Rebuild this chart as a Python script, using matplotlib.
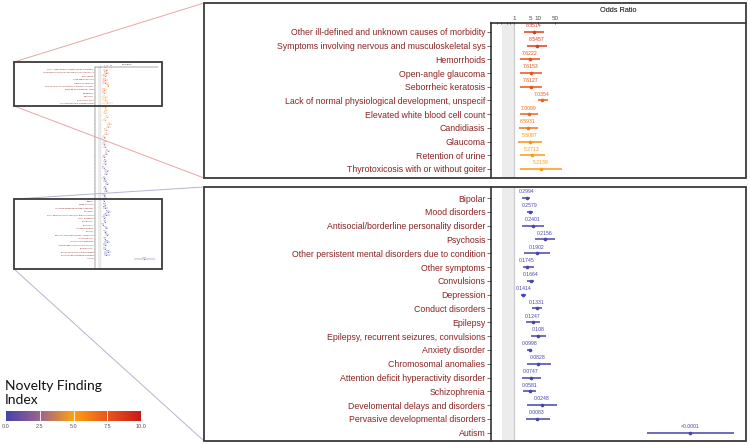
"""
Forest plot (odds ratio) con vista miniatura y dos paneles ampliados.
"""

import matplotlib
matplotlib.use('Agg')
import matplotlib.pyplot as plt
from matplotlib.colors import LinearSegmentedColormap, Normalize
from matplotlib.cm import ScalarMappable
from matplotlib.lines import Line2D
from matplotlib.patches import Rectangle
from matplotlib.ticker import NullLocator

plt.rcParams['font.family'] = ['Liberation Sans', 'DejaVu Sans']

# ---------------- Datos ----------------
# Panel superior (indice alto)
etiquetas_sup = [
    "Other ill-defined and unknown causes of morbidity",
    "Symptoms involving nervous and musculoskeletal sys",
    "Hemorrhoids",
    "Open-angle glaucoma",
    "Seborrheic keratosis",
    "Lack of normal physiological development, unspecif",
    "Elevated white blood cell count",
    "Candidiasis",
    "Glaucoma",
    "Retention of urine",
    "Thyrotoxicosis with or without goiter",
]
indice_sup = [8.5514, 8.5457, 7.6222, 7.6153, 7.6127, 7.0354, 7.0099, 6.5931, 5.5087, 5.2713, 5.2139]
or_sup = [6.8, 9.1, 4.6, 5.1, 5.1, 14.7, 4.2, 3.8, 4.6, 5.6, 13.3]
inf_sup = [2.6, 3.5, 1.8, 1.8, 1.8, 10.0, 1.8, 1.6, 1.5, 1.8, 1.8]
sup_sup = [17.8, 23.7, 12.1, 14.7, 14.7, 26.1, 10.0, 10.0, 14.7, 19.6, 100.0]

# Filas intermedias (solo visibles en la miniatura, valores estimados)
indice_med = [5.09, 4.97, 4.82, 4.61, 4.44, 4.18, 3.95, 3.71, 3.52, 3.30, 3.07, 2.86, 2.71, 2.49,
              2.28, 2.06, 1.88, 1.71, 1.52, 1.33, 1.17, 1.02, 0.88, 0.74, 0.61, 0.52, 0.43, 0.35]
or_med = [4.5, 8.0, 6.0, 12.0, 5.0, 30.0, 20.0, 7.0, 9.0, 4.0, 6.0, 3.5, 5.0, 15.0,
          8.0, 4.0, 6.0, 5.0, 3.0, 10.0, 7.0, 4.0, 6.0, 12.0, 5.0, 8.0, 4.0, 6.0]
inf_med = [2.0, 3.0, 2.5, 5.0, 2.0, 12.0, 8.0, 3.0, 3.5, 1.8, 2.5, 1.8, 2.2, 5.0,
           3.0, 2.0, 2.5, 2.2, 1.6, 4.0, 3.0, 2.0, 2.5, 5.0, 2.2, 3.5, 2.0, 2.5]
sup_med = [10.0, 20.0, 15.0, 30.0, 12.0, 70.0, 50.0, 16.0, 22.0, 9.0, 14.0, 7.0, 11.0, 40.0,
           20.0, 8.0, 14.0, 11.0, 6.0, 25.0, 16.0, 8.0, 14.0, 30.0, 11.0, 18.0, 8.0, 14.0]

# Panel inferior (indice bajo)
etiquetas_inf = [
    "Bipolar",
    "Mood disorders",
    "Antisocial/borderline personality disorder",
    "Psychosis",
    "Other persistent mental disorders due to condition",
    "Other symptoms",
    "Convulsions",
    "Depression",
    "Conduct disorders",
    "Epilepsy",
    "Epilepsy, recurrent seizures, convulsions",
    "Anxiety disorder",
    "Chromosomal anomalies",
    "Attention deficit hyperactivity disorder",
    "Schizophrenia",
    "Develomental delays and disorders",
    "Pervasive developmental disorders",
    "Autism",
]
indice_inf = [0.2994, 0.2579, 0.2401, 0.2156, 0.1902, 0.1745, 0.1664, 0.1414, 0.1331, 0.1247,
              0.108, 0.0998, 0.0828, 0.0747, 0.0581, 0.0248, 0.0083, 0.0]
or_inf = [3.5, 4.6, 6.2, 19.6, 9.1, 3.5, 5.1, 2.4, 9.1, 6.2, 10.0, 4.6, 10.0, 5.1, 4.6, 14.7, 9.1, 2.2e7]
inf_inf = [2.15, 3.5, 2.15, 7.5, 2.6, 2.4, 3.5, 1.96, 5.6, 3.2, 5.1, 3.5, 3.5, 2.15, 2.4, 3.5, 3.2, 3.5e5]
sup_inf = [4.6, 6.2, 17.8, 51.0, 31.6, 6.8, 6.8, 3.2, 14.7, 12.1, 21.5, 5.6, 34.8, 13.3, 8.3, 62.0, 31.6, 1.5e9]

ticks_or = [0.2, 0.3, 0.5, 0.7, 1, 5, 10, 50]
ticks_or_txt = ['', '', '', '', '1', '5', '10', '50']
ticks_barra = [0.0, 2.5, 5.0, 7.5, 10.0]

# Todas las filas juntas
etiquetas = etiquetas_sup + [''] * len(indice_med) + etiquetas_inf
indices = indice_sup + indice_med + indice_inf
ors = or_sup + or_med + or_inf
infs = inf_sup + inf_med + inf_inf
sups = sup_sup + sup_med + sup_inf
n_sup = len(etiquetas_sup)
n_ini_inf = n_sup + len(indice_med)
filas_sup = list(range(n_sup))
filas_inf = list(range(n_ini_inf, len(etiquetas)))
filas_todas = list(range(len(etiquetas)))

# ---------------- Estilo ----------------
W, H = 750, 445
XMIN, XMAX = 0.110, 4.6e9
COLOR_ETIQ = '#8B2323'
cmap = LinearSegmentedColormap.from_list(
    'novedad', [(0.0, '#4444aa'), (0.25, '#9c6290'), (0.5, '#ffa010'), (0.75, '#e8561a'), (1.0, '#c81a1a')])
norm = Normalize(0, 10)


def rect_px(izq, arr, der, aba):
    return [izq / W, 1 - aba / H, (der - izq) / W, (aba - arr) / H]


def fmt_indice(v):
    return '<0.0001' if v < 0.0001 else str(v)


def dibujar_forest(ax, filas, s, eje_sup, ylim):
    """Dibuja las filas indicadas con factor de escala s."""
    for i in filas:
        c = cmap(norm(indices[i]))
        ax.hlines(i, infs[i], sups[i], color=c, lw=1.1 * s, zorder=3)
        ax.plot(ors[i], i, 'o', color=c, ms=2.6 * s, mec='none', zorder=4)
        ax.text(ors[i], i - 0.45, fmt_indice(indices[i]), color=c, fontsize=3.7 * s,
                ha='center', va='center', zorder=4)
    ax.axvspan(0.32, 1, color='#ececec', zorder=0, lw=0)
    ax.axvline(1, color='#cccccc', lw=0.9 * s, zorder=1)
    ax.set_xscale('log')
    ax.set_xlim(XMIN, XMAX)
    ax.set_ylim(*ylim)
    ax.set_yticks(filas)
    ax.set_yticklabels([etiquetas[i] for i in filas], fontsize=6.3 * s, color=COLOR_ETIQ)
    ax.tick_params(axis='y', length=3 * s, width=0.6 * s, color='#555555', pad=1 * s)
    for lado in ['right', 'bottom']:
        ax.spines[lado].set_visible(False)
    ax.spines['left'].set_linewidth(1.1 * s)
    ax.spines['left'].set_color('#222222')
    ax.xaxis.set_minor_locator(NullLocator())
    if eje_sup:
        ax.xaxis.tick_top()
        ax.set_xticks(ticks_or)
        ax.set_xticklabels(ticks_or_txt)
        ax.xaxis.set_minor_locator(NullLocator())
        ax.tick_params(axis='x', labelsize=4.5 * s, length=1.5 * s, width=0.6 * s,
                       color='#555555', labelcolor='#4d4d4d', pad=1 * s, direction='inout')
        ax.xaxis.set_label_position('top')
        ax.set_xlabel('Odds Ratio', fontsize=5.3 * s, labelpad=2.5 * s)
        ax.spines['top'].set_linewidth(1.1 * s)
        ax.spines['top'].set_color('#222222')
    else:
        ax.set_xticks([])
        ax.spines['top'].set_visible(False)


fig = plt.figure(figsize=(W / 100, H / 100), dpi=100)

# Miniatura completa
ax_mini = fig.add_axes(rect_px(95, 67, 158, 268))
dibujar_forest(ax_mini, filas_todas, 0.25, True, (58.7, -0.74))

# Panel ampliado superior
ax_sup = fig.add_axes(rect_px(491, 23, 746, 178))
dibujar_forest(ax_sup, filas_sup, 1.0, True, (n_sup - 1 + 0.66, -0.657))

# Panel ampliado inferior
ax_inf = fig.add_axes(rect_px(491, 187, 746, 441))
dibujar_forest(ax_inf, filas_inf, 1.0, False, (n_ini_inf + 17.6, n_ini_inf - 0.8))

# Marcos y lineas de conexion
for (izq, arr, der, aba) in [(204, 3, 746, 178), (204, 187, 746, 441), (14, 62, 162, 106), (14, 199, 162, 269)]:
    r = rect_px(izq, arr, der, aba)
    fig.add_artist(Rectangle((r[0], r[1]), r[2], r[3], transform=fig.transFigure,
                             fill=False, ec='#3a3a3a', lw=1.3, zorder=10))

conexiones = [((14, 62), (204, 3), '#e6a6a6'), ((14, 106), (204, 178), '#e6a6a6'),
              ((14, 199), (204, 187), '#b4b4d2'), ((14, 269), (204, 441), '#b4b4d2')]
for (x1, y1), (x2, y2), col in conexiones:
    fig.add_artist(Line2D([x1 / W, x2 / W], [1 - y1 / H, 1 - y2 / H], transform=fig.transFigure,
                          color=col, lw=0.7, zorder=9))

# Barra de color
cax = fig.add_axes(rect_px(6, 411, 141, 421))
cbar = fig.colorbar(ScalarMappable(norm=norm, cmap=cmap), cax=cax, orientation='horizontal')
cbar.outline.set_visible(False)
cbar.set_ticks(ticks_barra)
cbar.set_ticklabels([f'{t:.1f}' for t in ticks_barra])
cax.tick_params(length=0, labelsize=4, labelcolor='#555555', pad=2)
for t in ticks_barra[1:-1]:
    cax.axvline(t, color='white', lw=0.6)

fig.text(5 / W, 1 - 406 / H, 'Novelty Finding\nIndex', fontsize=10, family=['Lato', 'DejaVu Sans'],
         color='#111111', ha='left', va='bottom', linespacing=1.2)

fig.savefig('out.png', dpi=100)
